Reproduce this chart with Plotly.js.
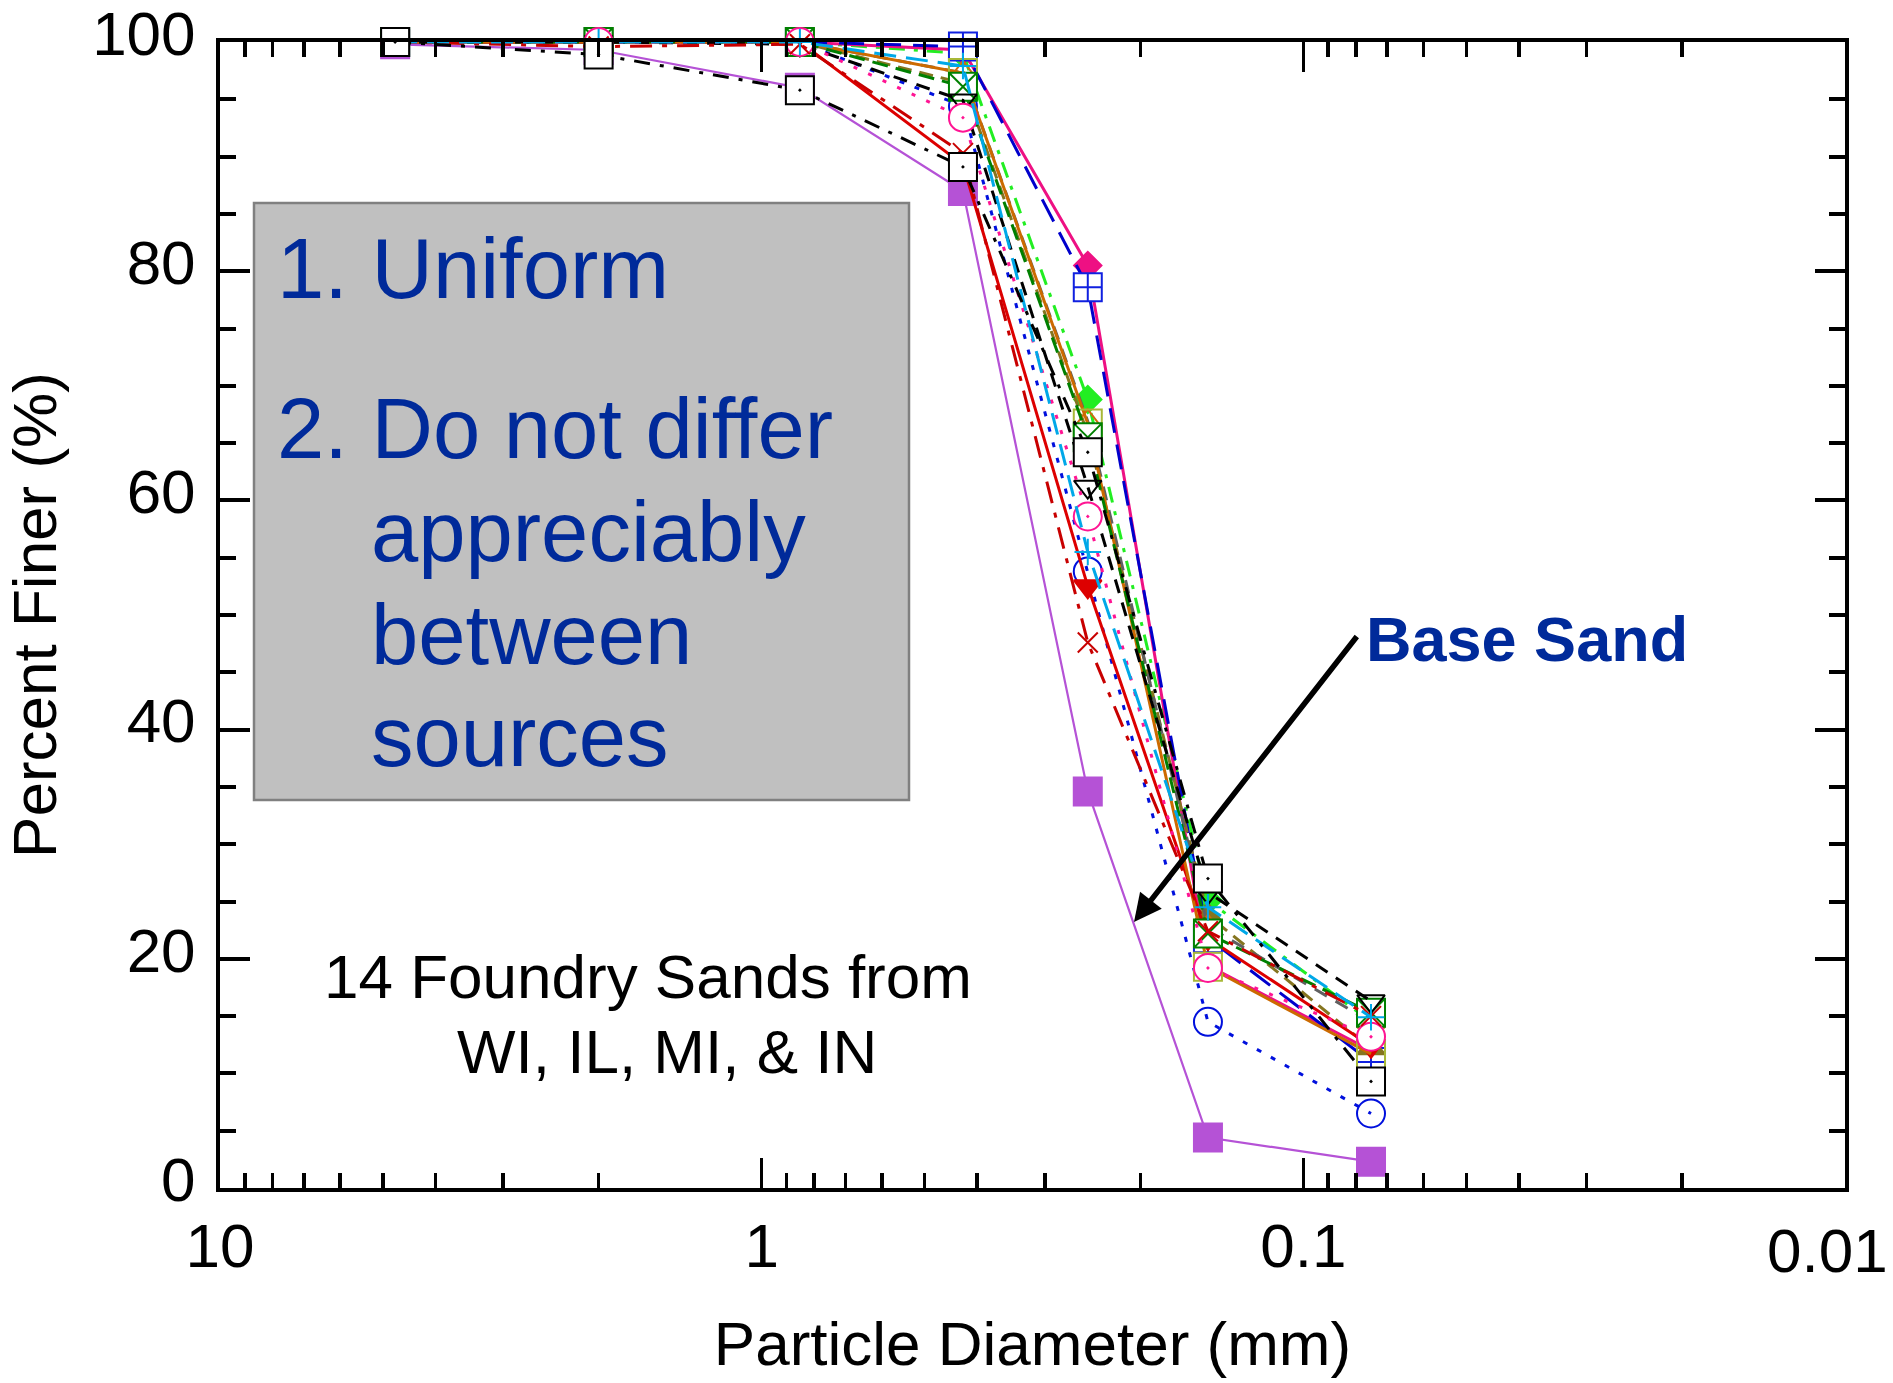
<!DOCTYPE html>
<html><head><meta charset="utf-8">
<script src="https://cdn.plot.ly/plotly-3.0.1.min.js"></script>
<style>html,body{margin:0;padding:0;background:#fff}#chart{width:1893px;height:1383px}</style>
</head><body><div id="chart"></div>
<script>
// Sieve openings (mm)
const sieveSizes = [4.75, 2.0, 0.85, 0.425, 0.25, 0.15, 0.075];

// Percent finer for each sand
const baseSand      = [99.8, 99.3, 96.0, 87.0, 34.6, 4.4, 2.3];
const sandBlueDot   = [100, 100, 100, 94.4, 53.8, 14.5, 6.5];
const sandLime      = [100, 100, 100, 99.0, 68.8, 25.1, 14.5];
const sandPink      = [100, 100, 100, 99.3, 80.5, 19.4, 12.0];
const sandBlueDash  = [100, 100, 100, 99.6, 78.6, 21.8, 11.0];
const sandOlive     = [100, 100, 100, 96.4, 65.8, 23.8, 12.2];
const sandRed       = [100, 100, 100, 89.3, 52.5, 21.8, 12.4];
const sandGray      = [100, 100, 100, 97.3, 66.9, 22.8, 14.5];
const sandOrange    = [100, 100, 100, 97.3, 66.7, 19.3, 11.7];
const sandGreen     = [100, 100, 100, 96.1, 65.5, 22.2, 15.3];
const sandBlackTri  = [100, 100, 99.8, 94.9, 61.2, 25.8, 16.3];
const sandPinkDot   = [100, 100, 100, 93.4, 58.6, 19.2, 13.2];
const sandDarkRed   = [100, 99.6, 99.8, 90.3, 47.6, 22.4, 15.0];
const sandCyan      = [100, 100, 100, 97.9, 55.5, 24.5, 14.9];
const sandBlackSq   = [100, 98.9, 95.8, 89.1, 64.2, 27.0, 9.3];

// Text
const xTickVals = [10, 1, 0.1, 0.01];
const xTickText = ['10', '1', '0.1', ''];
const xLastTickText = '0.01';
const yTickVals = [0, 20, 40, 60, 80, 100];
const noteLines = ['1. Uniform', '2. Do not differ', 'appreciably', 'between', 'sources'];
const sourceLines = ['14 Foundry Sands from', 'WI, IL, MI, & IN'];
const baseLabel = 'Base Sand';

const FONT = 'Arial, "Liberation Sans", sans-serif';

const styles = [
  {y: baseSand,     name: 'Base Sand', lc: '#B552D6', lw: 2.2, dash: 'solid', sym: 'square', mc: '#B552D6', ml: '#B552D6', ms: 28},
  {y: sandBlueDot,  name: 'Sand 1',  lc: '#0010DD', lw: 3, dash: '5px,11px', sym: 'circle-open', mc: '#0010DD', ml: '#0010DD', ms: 28},
  {y: sandLime,     name: 'Sand 2',  lc: '#22EE22', lw: 3, dash: '16px,9px,4px,9px', sym: 'diamond', mc: '#22EE22', ml: '#22EE22', ms: 21},
  {y: sandPink,     name: 'Sand 3',  lc: '#EE1083', lw: 3, dash: 'solid', sym: 'diamond', mc: '#EE1083', ml: '#EE1083', ms: 21},
  {y: sandBlueDash, name: 'Sand 4',  lc: '#0000CC', lw: 3, dash: '25px,12px', sym: 'square-cross', mc: '#FFFFFF', ml: '#1020E0', ms: 28},
  {y: sandOlive,    name: 'Sand 5',  lc: '#857520', lw: 3, dash: '14px,8px', sym: 'triangle-up', mc: '#857520', ml: '#857520', ms: 24},
  {y: sandRed,      name: 'Sand 6',  lc: '#DD0000', lw: 3, dash: 'solid', sym: 'triangle-down', mc: '#DD0000', ml: '#DD0000', ms: 24},
  {y: sandGray,     name: 'Sand 7',  lc: '#606060', lw: 3, dash: '14px,10px', sym: 'triangle-up-open', mc: '#D06A10', ml: '#D06A10', ms: 24},
  {y: sandOrange,   name: 'Sand 8',  lc: '#CC6A00', lw: 3, dash: 'solid', sym: 'square-open', mc: '#A8B838', ml: '#A8B838', ms: 28},
  {y: sandGreen,    name: 'Sand 9',  lc: '#008000', lw: 3, dash: '16px,8px', sym: 'square-x', mc: '#FFFFFF', ml: '#008000', ms: 28},
  {y: sandBlackTri, name: 'Sand 10', lc: '#000000', lw: 3, dash: '14px,10px', sym: 'triangle-down-open', mc: '#000000', ml: '#000000', ms: 24},
  {y: sandPinkDot,  name: 'Sand 11', lc: '#FF1493', lw: 3, dash: '4px,12px', sym: 'circle-dot', mc: '#FFFFFF', ml: '#FF1493', ms: 28},
  {y: sandDarkRed,  name: 'Sand 12', lc: '#C80000', lw: 3, dash: '22px,10px,5px,10px', sym: 'x-thin-open', mc: '#C80000', ml: '#C80000', ms: 20},
  {y: sandCyan,     name: 'Sand 13', lc: '#00A8E8', lw: 3, dash: '22px,10px', sym: 'cross-thin-open', mc: '#00A8E8', ml: '#00A8E8', ms: 19},
  {y: sandBlackSq,  name: 'Sand 14', lc: '#000000', lw: 3, dash: '16px,10px,4px,10px', sym: 'square-dot', mc: '#FFFFFF', ml: '#000000', ms: 28}
];

const traces = styles.map(s => ({
  type: 'scatter', mode: 'lines+markers', name: s.name,
  x: sieveSizes, y: s.y, cliponaxis: false,
  line: {color: s.lc, width: s.lw, dash: s.dash},
  marker: {symbol: s.sym, size: s.ms, color: s.mc, line: {color: s.ml, width: 2}}
}));

// plot area in pixels: left 220, right 1845, top 42, bottom 1188
const L = 220, R = 1845, T = 42, B = 1188;
const px = x => (x - L) / (R - L);
const py = y => (B - y) / (B - T);

const annotations = [];
const noteX = [275, 275, 369, 369, 369];
const noteY = [268, 428, 531, 634, 736];
noteLines.forEach((t, i) => annotations.push({
  xref: 'paper', yref: 'paper', x: px(noteX[i]), y: py(noteY[i]),
  xanchor: 'left', yanchor: 'middle', showarrow: false, text: t,
  font: {family: FONT, size: 85, color: '#002A9A'}
}));
const srcX = [648, 667], srcY = [976, 1051];
sourceLines.forEach((t, i) => annotations.push({
  xref: 'paper', yref: 'paper', x: px(srcX[i]), y: py(srcY[i]),
  xanchor: 'center', yanchor: 'middle', showarrow: false, text: t,
  font: {family: FONT, size: 62, color: '#000'}
}));
annotations.push({
  xref: 'paper', yref: 'paper', x: px(1364), y: py(639),
  xanchor: 'left', yanchor: 'middle', showarrow: false, text: '<b>' + baseLabel + '</b>',
  font: {family: FONT, size: 63, color: '#002A9A'}
});
annotations.push({
  xref: 'paper', yref: 'paper', x: px(1134), y: py(922), text: '',
  showarrow: true, ax: 224, ay: -287, arrowhead: 2, arrowsize: 1.0, arrowwidth: 5.5, arrowcolor: '#000'
});
// last x tick label kept inside the page
annotations.push({
  xref: 'paper', yref: 'paper', x: px(1890), y: py(1250),
  xanchor: 'right', yanchor: 'middle', showarrow: false, text: xLastTickText,
  font: {family: FONT, size: 62, color: '#000'}
});

const layout = {
  width: 1893, height: 1383,
  margin: {l: L, r: 1893 - R, t: T, b: 1383 - B, pad: 0},
  paper_bgcolor: '#fff', plot_bgcolor: '#fff',
  showlegend: false,
  font: {family: FONT, size: 62, color: '#000'},
  xaxis: {
    type: 'log', range: [1, -2], autorange: false,
    tickvals: xTickVals, ticktext: xTickText,
    ticks: 'inside', ticklen: 30, tickwidth: 3.5, tickcolor: '#000',
    showline: true, linewidth: 4, linecolor: '#000', mirror: 'allticks',
    showgrid: false, zeroline: false,
    tickfont: {family: FONT, size: 62, color: '#000'},
    ticklabelstandoff: 1, ticklabeloverflow: 'allow',
    minor: {ticks: 'inside', ticklen: 15, tickwidth: 3.5, tickcolor: '#000', dtick: 'D1', showgrid: false},
    title: {text: 'Particle Diameter (mm)', font: {family: FONT, size: 62, color: '#000'}, standoff: 43},
    automargin: false
  },
  yaxis: {
    range: [0, 100], autorange: false,
    tickvals: yTickVals,
    ticks: 'inside', ticklen: 30, tickwidth: 4, tickcolor: '#000',
    showline: true, linewidth: 4, linecolor: '#000', mirror: 'allticks',
    showgrid: false, zeroline: false,
    tickfont: {family: FONT, size: 62, color: '#000'},
    ticklabelstandoff: 8, ticklabelshift: -9, ticklabeloverflow: 'allow',
    minor: {ticks: 'inside', ticklen: 16, tickwidth: 4, tickcolor: '#000', dtick: 5, showgrid: false},
    title: {text: 'Percent Finer (%)', font: {family: FONT, size: 62, color: '#000'}, standoff: 44},
    automargin: false
  },
  shapes: [{
    type: 'rect', xref: 'paper', yref: 'paper', layer: 'below',
    x0: px(254), x1: px(909), y0: py(800), y1: py(203),
    fillcolor: '#C0C0C0', line: {color: '#808080', width: 2.5}
  }],
  annotations: annotations
};

Plotly.newPlot('chart', traces, layout, {staticPlot: true, displayModeBar: false});
</script>
</body></html>
